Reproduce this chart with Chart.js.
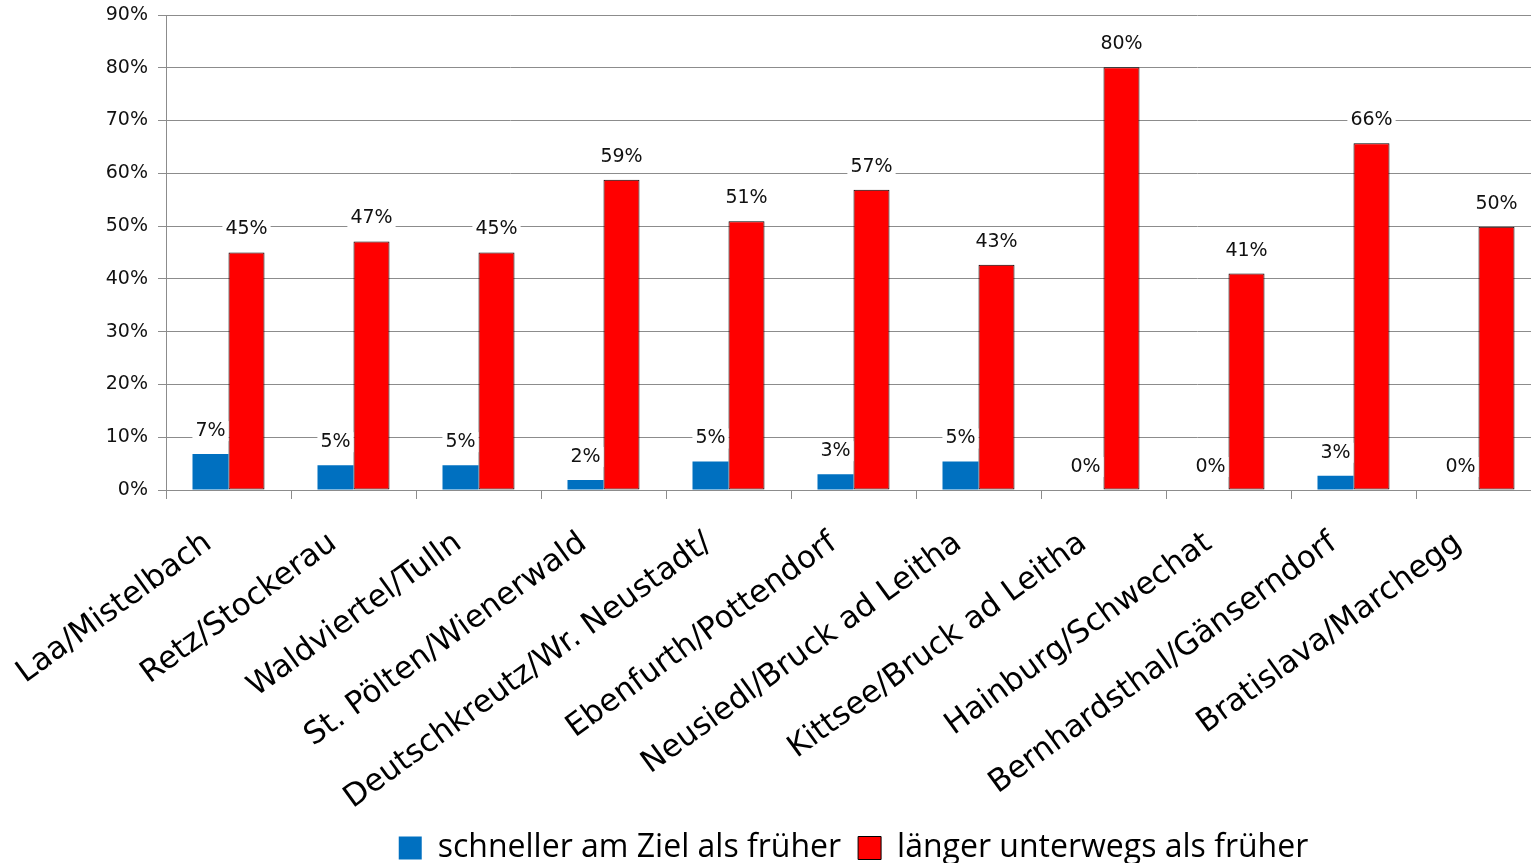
<!DOCTYPE html>
<html>
<head>
<meta charset="utf-8">
<script src="https://cdn.jsdelivr.net/npm/chart.js@4"></script>
<style>
  html, body { margin: 0; padding: 0; background: #fff; overflow: hidden; }
  #wrap { width: 1541px; height: 863px; position: relative; }
</style>
</head>
<body>
<div id="wrap"><canvas id="chart"></canvas></div>
<script>
const categories = [
  'Laa/Mistelbach', 'Retz/Stockerau', 'Waldviertel/Tulln', 'St. Pölten/Wienerwald',
  'Deutschkreutz/Wr. Neustadt/', 'Ebenfurth/Pottendorf', 'Neusiedl/Bruck ad Leitha',
  'Kittsee/Bruck ad Leitha', 'Hainburg/Schwechat', 'Bernhardsthal/Gänserndorf', 'Bratislava/Marchegg'
];
const faster = [6.8, 4.7, 4.7, 1.9, 5.4, 3.0, 5.4, 0, 0, 2.7, 0];
const slower = [45.0, 47.1, 45.0, 58.8, 50.9, 56.9, 42.7, 80.1, 41.0, 65.7, 49.9];
const seriesNames = ['schneller am Ziel als früher', 'länger unterwegs als früher'];

const gridColor = '#8c8c8c';
const mainFont = 'DejaVu Sans';

// value labels with a white box behind them
const valueLabels = {
  id: 'valueLabels',
  afterDatasetsDraw(chart) {
    const ctx = chart.ctx;
    ctx.save();
    ctx.font = '19px "' + mainFont + '"';
    ctx.textAlign = 'center';
    ctx.textBaseline = 'middle';
    chart.data.datasets.forEach((ds, i) => {
      chart.getDatasetMeta(i).data.forEach((bar, j) => {
        const txt = Math.round(ds.data[j]) + '%';
        const w = ctx.measureText(txt).width;
        const y = bar.y - 23;
        ctx.fillStyle = '#fff';
        ctx.fillRect(bar.x - w / 2 - 3, y - 10, w + 6, 20);
        ctx.fillStyle = '#111';
        ctx.fillText(txt, bar.x, y);
      });
    });
    ctx.restore();
  }
};

new Chart(document.getElementById('chart'), {
  type: 'bar',
  data: {
    labels: categories,
    datasets: [
      { label: seriesNames[0], data: faster, backgroundColor: '#0070C0', borderWidth: 0 },
      { label: seriesNames[1], data: slower, backgroundColor: '#FF0000', borderColor: '#000',
        borderWidth: 1, borderSkipped: false }
    ]
  },
  options: {
    responsive: true,
    maintainAspectRatio: false,
    animation: false,
    datasets: { bar: { categoryPercentage: 0.576, barPercentage: 1 } },
    layout: { padding: { top: 15, right: 0, left: 0, bottom: -11 } },
    plugins: {
      tooltip: { enabled: false },
      legend: {
        position: 'bottom',
        fullSize: false,
        labels: {
          boxWidth: 23,
          boxHeight: 23,
          padding: 17,
          color: '#000',
          font: { family: '"Open Sans"', size: 32 }
        }
      }
    },
    scales: {
      x: {
        afterFit: axis => { axis.height = 325; },
        grid: { display: true, drawOnChartArea: false, offset: true, color: gridColor, tickLength: 9 },
        border: { color: gridColor },
        ticks: {
          autoSkip: false,
          minRotation: 36,
          maxRotation: 36,
          padding: 26,
          labelOffset: -20,
          color: '#000',
          font: { family: mainFont, size: 31 }
        }
      },
      y: {
        min: 0,
        max: 90,
        afterFit: axis => { axis.width = 166; axis.paddingTop = 0; axis.paddingBottom = 0; },
        grid: { color: gridColor, tickLength: 8 },
        border: { color: gridColor },
        ticks: {
          stepSize: 10,
          padding: 10,
          color: '#111',
          font: { family: mainFont, size: 19 },
          callback: v => v + '%'
        }
      }
    }
  },
  plugins: [valueLabels]
});
</script>
</body>
</html>
